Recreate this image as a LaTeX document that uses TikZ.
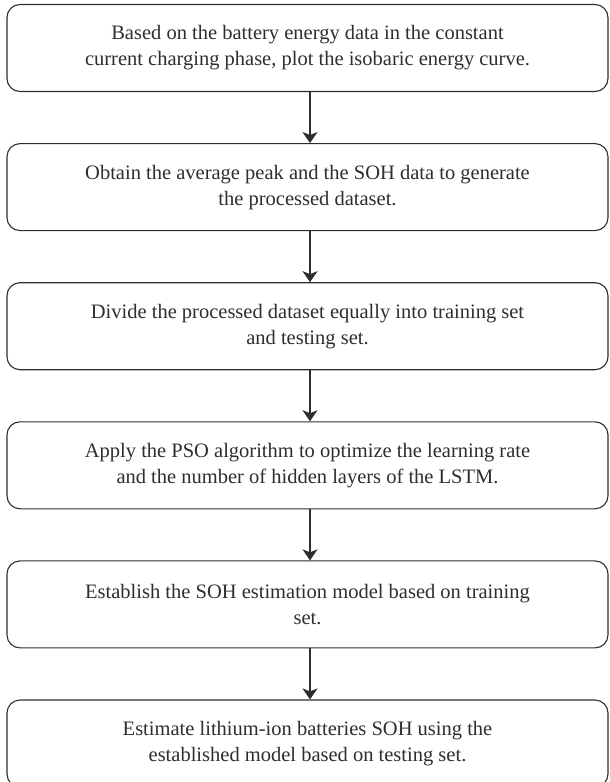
\documentclass[tikz,border=0pt]{standalone}
\usepackage{fontspec}
\setmainfont{Liberation Serif}
\usetikzlibrary{arrows.meta, positioning}
\definecolor{lineGray}{HTML}{2E2E2E}

\tikzset{
  stepbox/.style={draw=lineGray, line width=1.1pt, rounded corners=13pt,
    minimum width=601pt, minimum height=87pt, align=center, inner sep=0pt,
    text=lineGray, font=\fontsize{20.5pt}{26pt}\selectfont},
  flow/.style={draw=lineGray, line width=1.1pt,
    -{Stealth[length=11pt, width=15pt, inset=3pt]}}
}

\begin{document}
\begin{tikzpicture}
    \useasboundingbox (0,0) rectangle (610pt,-782pt);
    % steps of the procedure
    \node[stepbox] (s1) at (307.5pt,-48pt) {Based on the battery energy data in the constant\\current charging phase, plot the isobaric energy curve.};
    \node[stepbox, below=51pt of s1] (s2) {Obtain the average peak and the SOH data to generate\\the processed dataset.};
    \node[stepbox, below=51pt of s2] (s3) {Divide the processed dataset equally into training set\\and testing set.};
    \node[stepbox, below=51pt of s3] (s4) {Apply the PSO algorithm to optimize the learning rate\\and the number of hidden layers of the LSTM.};
    \node[stepbox, below=51pt of s4] (s5) {Establish the SOH estimation model based on training\\set.};
    \node[stepbox, below=51pt of s5] (s6) {Estimate lithium-ion batteries SOH using the\\established model based on testing set.};
    \foreach \a/\b in {s1/s2, s2/s3, s3/s4, s4/s5, s5/s6}
      \draw[flow] ([xshift=2.5pt]\a.south) -- ([xshift=2.5pt]\b.north);
\end{tikzpicture}
\end{document}
